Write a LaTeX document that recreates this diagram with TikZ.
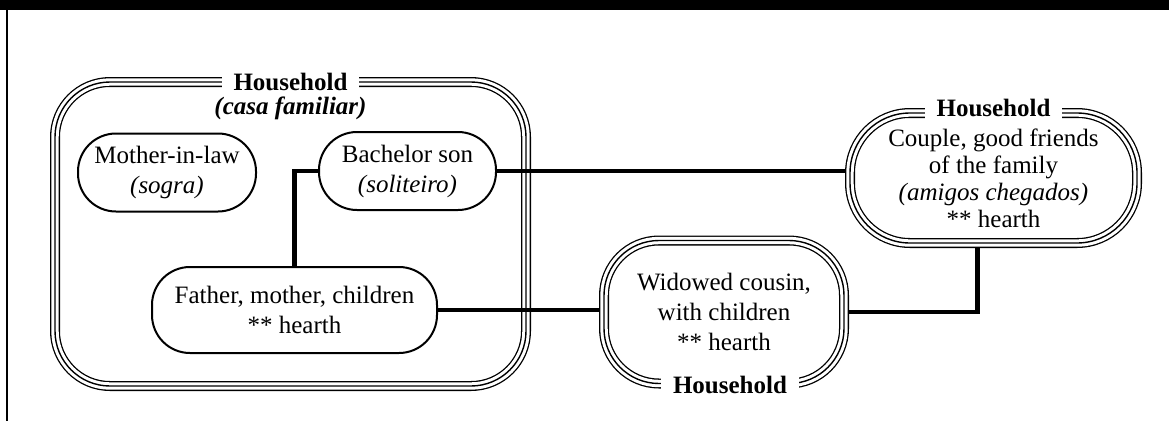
\documentclass[tikz,border=0pt]{standalone}
\usepackage{fontspec}
\setmainfont{Liberation Serif}
\newcommand{\txtsize}{\fontsize{25}{30}\selectfont}
\tikzset{
  conn/.style={line width=4.5pt},
  pill/.style={draw, line width=2pt, rounded corners=38pt, align=center, inner sep=0pt, font=\txtsize},
  triple/.style={draw=white, line width=7.4pt,
    preaction={draw=black, line width=10pt},
    postaction={draw=black, line width=1.4pt},
    rounded corners=#1, outer sep=5pt, align=center, inner sep=0pt, font=\txtsize},
  lab/.style={fill=white, inner xsep=12pt, inner ysep=2pt, font=\txtsize\bfseries},
}
\begin{document}
\begin{tikzpicture}[x=1pt,y=-1pt]
\useasboundingbox (0,0) rectangle (1169,421);
\fill (0,0) rectangle (1169,10);
\draw[line width=1.5pt] (7,10) -- (7,421);

% big household
\node[triple=55pt, minimum width=471pt, minimum height=304pt] (hh1) at (290.5,234) {};
\node[lab] (hh1lab) at (290.5,82) {Household};
\node[font=\txtsize\bfseries\itshape, inner sep=1pt] (hh1sub) at (290.5,108) {(casa familiar)};

\node[pill, minimum width=178pt, minimum height=78pt] (moth) at (167,172.5) {Mother-in-law\\\textit{(sogra)}};
\node[pill, minimum width=177pt, minimum height=78pt] (bach) at (407.5,171) {Bachelor son\\\textit{(soliteiro)}};
\node[pill, minimum width=285pt, minimum height=86pt] (fam) at (294.5,310) {Father, mother, children\\** hearth};

% widowed cousin household
\node[triple=55pt, minimum width=240pt, minimum height=143pt] (wid) at (724,312) {Widowed cousin,\\with children\\** hearth};
\node[lab] (widlab) at (730,385) {Household};

% couple household
\node[triple=60pt, minimum width=287pt, minimum height=130pt, font=\fontsize{25}{27}\selectfont] (cpl) at (993.5,178) {Couple, good friends\\of the family\\\textit{(amigos chegados)}\\** hearth};
\node[lab] (cpllab) at (993.5,108) {Household};

\coordinate (cj) at ([xshift=-16pt]cpl.south);
\draw[conn] (bach.west) -| (fam.north);
\draw[conn] (bach.east) -- (bach.east -| cpl.west);
\draw[conn] (fam.east) -- (fam.east -| wid.west);
\draw[conn] (wid.east) -| (cj);
\end{tikzpicture}
\end{document}
